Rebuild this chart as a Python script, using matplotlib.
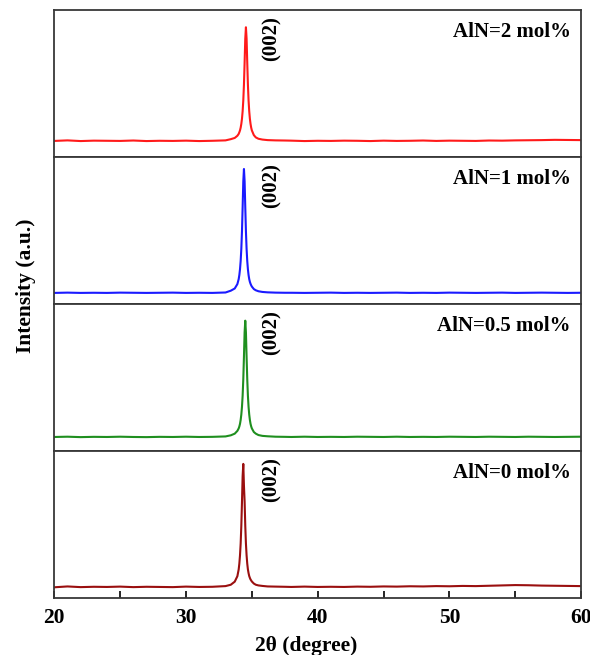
import matplotlib.pyplot as plt
import numpy as np

plt.rcParams['font.family'] = ['Liberation Serif', 'DejaVu Serif']
plt.rcParams['font.weight'] = 'bold'

# 2theta sample points (degree), denser around the (002) peak
two_theta = [20, 21, 22, 23, 24, 25, 26, 27, 28, 29, 30, 31, 32, 33,
             33.4, 33.7, 33.9,
             34.0, 34.05, 34.1, 34.15, 34.2, 34.25, 34.3, 34.35, 34.4, 34.45,
             34.5, 34.55, 34.6, 34.65, 34.7, 34.75, 34.8, 34.85, 34.9, 34.95, 35.0,
             35.15, 35.3, 35.5, 35.8, 36.2, 36.8, 37.5,
             38, 39, 40, 41, 42, 43, 44, 45, 46, 47, 48, 49, 50, 51, 52, 53,
             54, 55, 56, 57, 58, 59, 60]

# intensities (a.u.)
aln_2 = [62, 66, 61, 64, 63, 62, 65, 61, 63, 62, 64, 61, 63, 66,
         75, 84, 100,
         114, 126, 140, 160, 188, 226, 282, 362, 480, 642,
         819, 903, 819, 642, 480, 362, 282, 226, 188, 160, 140,
         105, 88, 78, 72, 68, 66, 65,
         64, 61, 63, 62, 64, 63, 61, 64, 62, 63, 65, 62, 64, 63, 62, 65,
         64, 66, 67, 68, 70, 69, 68]
aln_1 = [40, 42, 40, 41, 40, 42, 41, 40, 41, 42, 40, 41, 40, 43,
         56, 72, 104,
         140, 170, 212, 272, 360, 488, 662, 850, 940, 850,
         662, 488, 360, 272, 212, 170, 140, 120, 106, 95, 86,
         68, 59, 52, 47, 44, 42, 41,
         41, 40, 41, 42, 40, 41, 40, 41, 42, 40, 41, 40, 42, 41, 40, 41,
         42, 40, 41, 42, 41, 40, 41]
aln_05 = [42, 44, 41, 43, 42, 44, 42, 41, 43, 42, 44, 42, 43, 46,
          54, 66, 86,
          104, 118, 137, 165, 204, 260, 340, 460, 622, 798,
          882, 798, 622, 460, 340, 260, 204, 165, 137, 118, 104,
          78, 66, 56, 50, 47, 44, 43,
          42, 44, 42, 43, 42, 44, 43, 42, 44, 42, 43, 42, 44, 43, 42, 44,
          43, 42, 44, 43, 42, 43, 44]
aln_0 = [55, 60, 56, 58, 57, 59, 56, 58, 57, 56, 59, 57, 58, 62,
         70, 88, 120,
         160, 194, 243, 312, 416, 556, 708, 780, 650, 560,
         416, 312, 243, 194, 160, 138, 121, 110, 101, 95, 89,
         77, 70, 66, 63, 60, 59, 58,
         57, 59, 57, 58, 57, 59, 58, 60, 59, 61, 60, 62, 61, 63, 62, 64,
         66, 68, 67, 65, 64, 63, 62]

series = [aln_2, aln_1, aln_05, aln_0]
labels = ['AlN=2 mol%', 'AlN=1 mol%', 'AlN=0.5 mol%', 'AlN=0 mol%']
colors = ['#ff1a1a', '#1a1aff', '#1f8f1f', '#9a0f0f']
ylims = [(-56, 1032), (-40, 1028), (-59, 1003), (-8, 856)]

fig, axes = plt.subplots(4, 1, sharex=True, figsize=(5.9, 6.55), dpi=100)
fig.subplots_adjust(left=0.092, right=0.985, top=0.985, bottom=0.087, hspace=0)

for ax, y, lab, c, yl in zip(axes, series, labels, colors, ylims):
    ax.plot(two_theta, y, color=c, lw=1.5)
    ax.set_xlim(20, 60)
    ax.set_ylim(*yl)
    ax.set_yticks([])
    ax.text(0.98, 0.85, lab, transform=ax.transAxes, ha='right', va='center',
            fontsize=15, fontweight='bold')
    ax.text(36.5, 0.96, '(002)', transform=ax.get_xaxis_transform(),
            rotation=90, ha='center', va='top', fontsize=15, fontweight='bold')
    for s in ax.spines.values():
        s.set_linewidth(1.3)
        s.set_color('#383838')
    ax.tick_params(axis='x', bottom=False, top=False)

bx = axes[-1]
bx.set_xticks([20, 25, 30, 35, 40, 45, 50, 55, 60])
bx.set_xticklabels(['20', '', '30', '', '40', '', '50', '', '60'])
bx.tick_params(axis='x', bottom=True, direction='in', length=5, width=1.2,
               labelsize=15.5, pad=7)

fig.text(0.519, 0.014, '2θ (degree)', ha='center', va='center',
         fontsize=15.5, fontweight='bold')
fig.text(0.044, 0.563, 'Intensity (a.u.)', rotation=90, ha='center', va='center',
         fontsize=15.5, fontweight='bold')

fig.savefig('out.png')
